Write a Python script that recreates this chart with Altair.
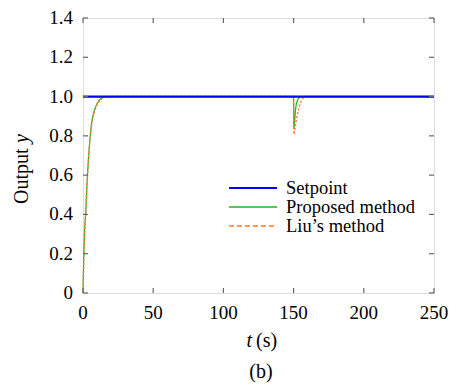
import altair as alt
import pandas as pd

# ---- data ----
t_prop = [0, 0.5, 1, 1.5, 2, 3, 4, 5, 6, 7, 8, 10, 12, 14, 16, 150, 150.2, 150.6, 151, 151.5, 152, 153, 154, 155, 250]
y_prop = [0, 0.18, 0.30, 0.36, 0.42, 0.58, 0.70, 0.79, 0.86, 0.90, 0.93, 0.965, 0.985, 0.995, 1.0, 1.0, 0.834, 0.86, 0.90, 0.94, 0.965, 0.985, 0.995, 1.0, 1.0]

t_liu = [0, 0.5, 1, 1.5, 2, 3, 4, 5, 6, 7, 8, 10, 12, 14, 16, 150, 150.3, 151, 152, 153, 154, 155, 156, 157, 158, 250]
y_liu = [0, 0.15, 0.28, 0.35, 0.41, 0.57, 0.69, 0.78, 0.85, 0.89, 0.92, 0.96, 0.98, 0.993, 1.0, 1.0, 0.807, 0.84, 0.88, 0.92, 0.95, 0.97, 0.985, 0.995, 1.0, 1.0]

t_set = [0, 250]
y_set = [1.0, 1.0]

x_ticks = [0, 50, 100, 150, 200, 250]
x_tick_labels = ["0", "50", "100", "150", "200", "250"]
y_ticks = [0, 0.2, 0.4, 0.6, 0.8, 1.0, 1.2, 1.4]
y_tick_labels = ["0", "0.2", "0.4", "0.6", "0.8", "1.0", "1.2", "1.4"]

legend_labels = ["Setpoint", "Proposed method", "Liu\u2019s method"]
legend_colors = ["#0000FF", "#22B422", "#FF7A30"]

FONT = "Liberation Serif"
W, H = 351, 275

xs = alt.Scale(domain=[0, 250], nice=False, zero=False)
ys = alt.Scale(domain=[0, 1.4], nice=False, zero=False)

df_prop = pd.DataFrame({"t": t_prop, "y": y_prop})
df_liu = pd.DataFrame({"t": t_liu, "y": y_liu})
df_set = pd.DataFrame({"t": t_set, "y": y_set})
df_xt = pd.DataFrame({"t": x_ticks, "lab": x_tick_labels})
df_yt = pd.DataFrame({"y": y_ticks, "lab": y_tick_labels})
one = pd.DataFrame({"a": [0]})

X = alt.X("t:Q", scale=xs, axis=None)
Y = alt.Y("y:Q", scale=ys, axis=None)

prop = alt.Chart(df_prop).mark_line(color=legend_colors[1], strokeWidth=1.2).encode(x=X, y=Y)
liu = alt.Chart(df_liu).mark_line(color=legend_colors[2], strokeWidth=1.4, strokeDash=[2, 2]).encode(x=X, y=Y)
setp = alt.Chart(df_set).mark_line(color=legend_colors[0], strokeWidth=2.2).encode(x=X, y=Y)

tick_style = dict(color="#666666", strokeWidth=1.2)
xt_bot = alt.Chart(df_xt).mark_rule(**tick_style).encode(x=X, y=alt.value(H), y2=alt.value(H - 5))
xt_top = alt.Chart(df_xt).mark_rule(**tick_style).encode(x=X, y=alt.value(0), y2=alt.value(5))
yt_left = alt.Chart(df_yt).mark_rule(**tick_style).encode(y=Y, x=alt.value(0), x2=alt.value(5))
yt_right = alt.Chart(df_yt).mark_rule(**tick_style).encode(y=Y, x=alt.value(W), x2=alt.value(W - 5))

xlab = alt.Chart(df_xt).mark_text(font=FONT, fontSize=19, color="black", align="center",
                                  baseline="top").encode(x=X, y=alt.value(H + 11), text="lab:N")
ylab = alt.Chart(df_yt).mark_text(font=FONT, fontSize=19, color="black", align="right",
                                  baseline="middle").encode(y=Y, x=alt.value(-10), text="lab:N")

layers = [prop, liu, setp, xt_bot, xt_top, yt_left, yt_right, xlab, ylab]

# legend
leg_y = [170, 189, 208]
dashes = [[1, 0], [1, 0], [5, 3]]
widths = [2.2, 1.3, 1.4]
for i, lab in enumerate(legend_labels):
    layers.append(alt.Chart(one).mark_rule(color=legend_colors[i], strokeWidth=widths[i],
                                            strokeDash=dashes[i]).encode(
        x=alt.value(146), x2=alt.value(194), y=alt.value(leg_y[i])))
    layers.append(alt.Chart(one).mark_text(text=lab, font=FONT, fontSize=18.5, color="black",
                                            align="left", baseline="middle").encode(
        x=alt.value(203), y=alt.value(leg_y[i])))

# axis titles (mixed italic)
layers.append(alt.Chart(one).mark_text(text="t", font=FONT, fontSize=20, fontStyle="italic",
                                        color="black", align="right", baseline="alphabetic").encode(
    x=alt.value(169), y=alt.value(329)))
layers.append(alt.Chart(one).mark_text(text="(s)", font=FONT, fontSize=20,
                                        color="black", align="left", baseline="alphabetic").encode(
    x=alt.value(173), y=alt.value(329)))
layers.append(alt.Chart(one).mark_text(text="(b)", font=FONT, fontSize=20,
                                        color="black", align="center", baseline="alphabetic").encode(
    x=alt.value(178), y=alt.value(360)))
layers.append(alt.Chart(one).mark_text(text="Output", font=FONT, fontSize=20, angle=270,
                                        color="black", align="left", baseline="alphabetic").encode(
    x=alt.value(-55), y=alt.value(186)))
layers.append(alt.Chart(one).mark_text(text="y", font=FONT, fontSize=20, angle=270, fontStyle="italic",
                                        color="black", align="left", baseline="alphabetic").encode(
    x=alt.value(-55), y=alt.value(125)))

chart = alt.layer(*layers).properties(
    width=W, height=H,
    autosize=alt.AutoSizeParams(type="none"),
    padding={"left": 75, "top": 10, "right": 15, "bottom": 90},
).configure_view(
    stroke="#666666", strokeWidth=1.6
).configure(background="white")

chart.save("out.html", embed_options={"renderer": "svg", "actions": False})
